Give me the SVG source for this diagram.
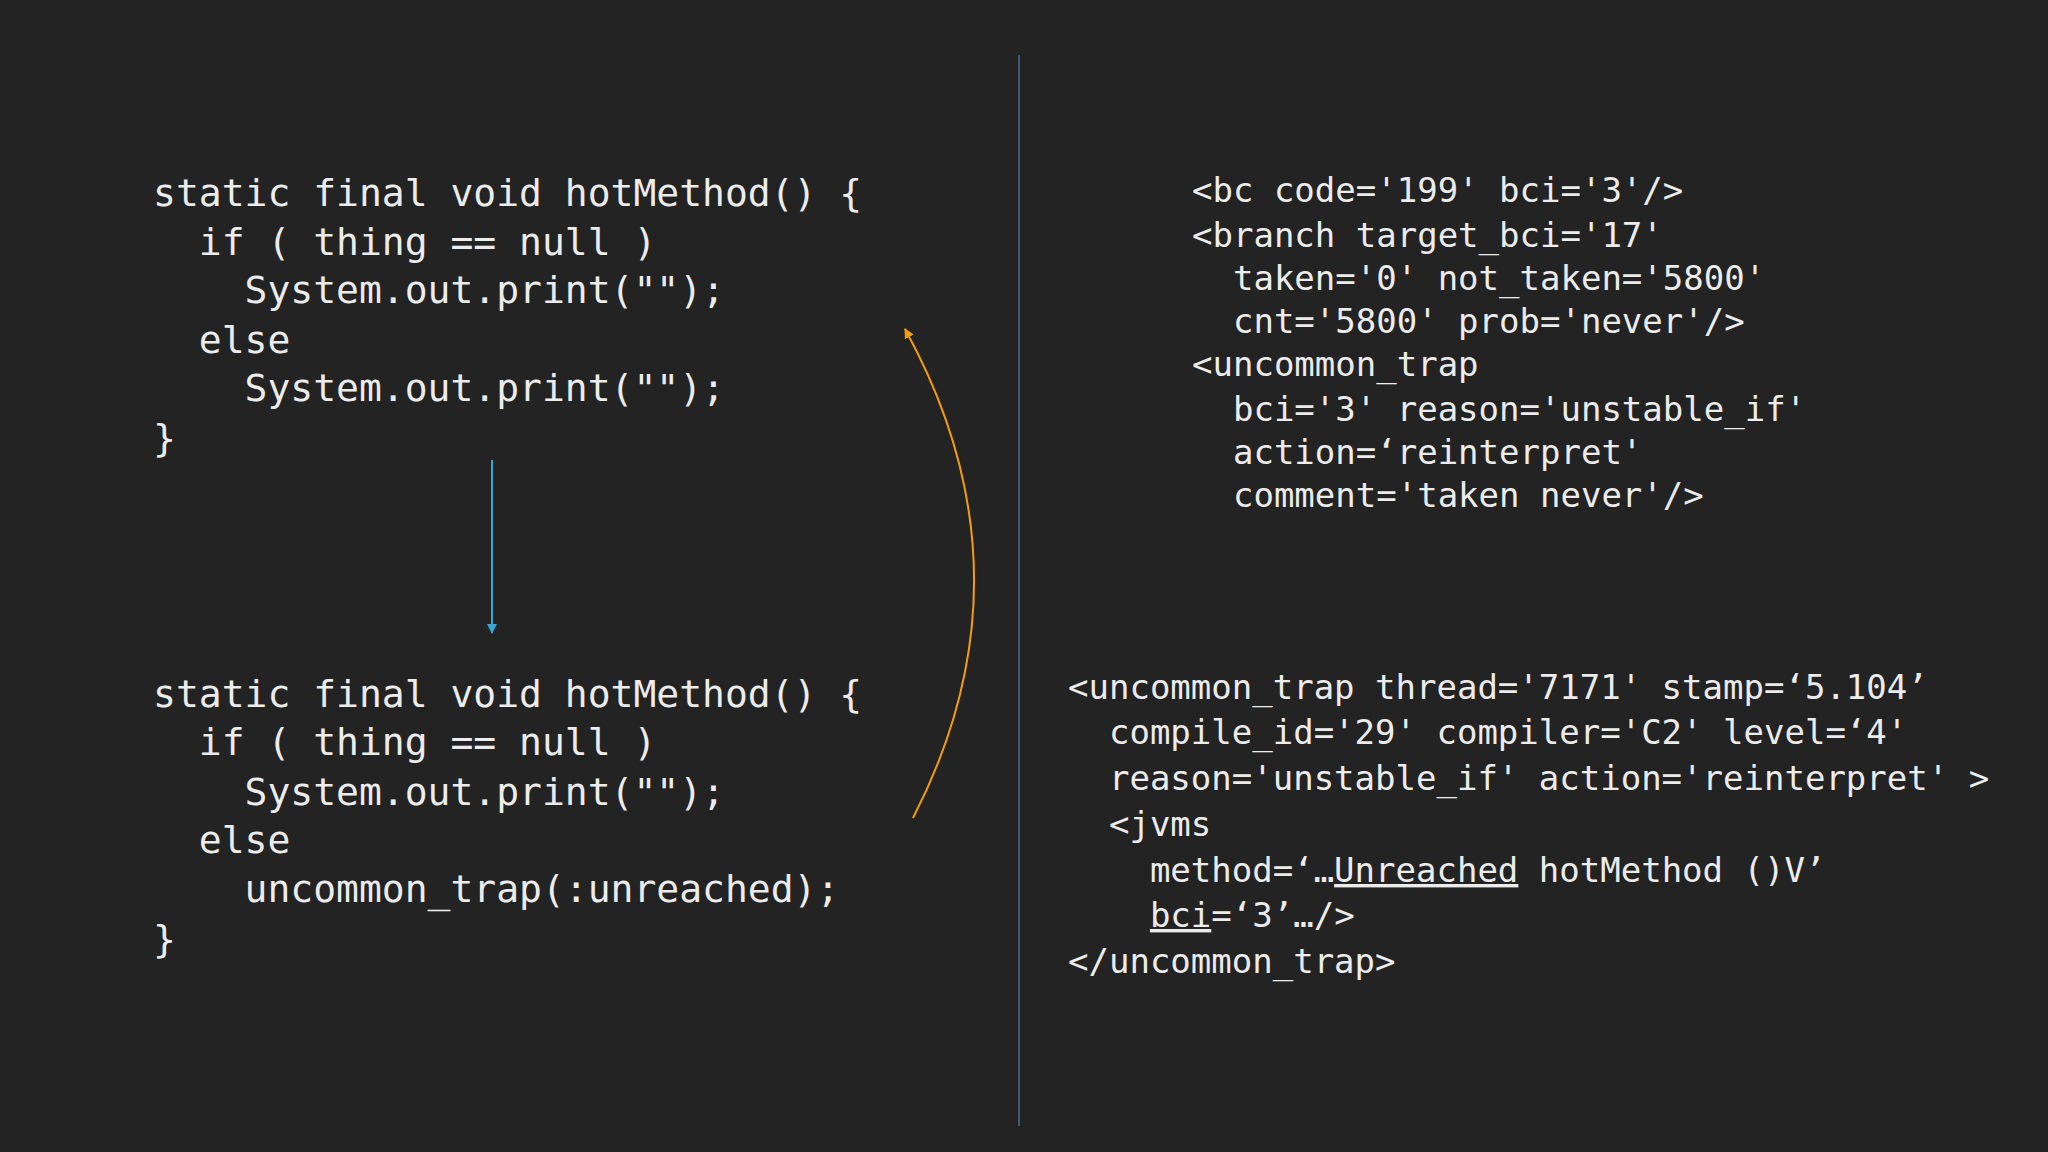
<svg xmlns="http://www.w3.org/2000/svg" width="2048" height="1152" viewBox="0 0 2048 1152">
<defs>
<style>
.code{font-family:"DejaVu Sans Mono","Liberation Mono",monospace;fill:#ececec;white-space:pre}
.l{font-size:38px}
.r{font-size:34px}
</style>
<marker id="ab" viewBox="0 0 10 10" refX="9" refY="5" markerWidth="5" markerHeight="5" orient="auto"><path d="M0,0L10,5L0,10z" fill="#3aa6d8"/></marker>
<marker id="ao" viewBox="0 0 10 10" refX="9" refY="5" markerWidth="5" markerHeight="5" orient="auto"><path d="M0,0L10,5L0,10z" fill="#f39c12"/></marker>
</defs>
<rect width="2048" height="1152" fill="#232323"/>
<line x1="1019" y1="55" x2="1019" y2="1126" stroke="#3d5a78" stroke-width="2"/>
<g id="code-top">
<text class="code l" xml:space="preserve"><tspan x="153" y="206">static final void hotMethod() {</tspan><tspan x="153" y="255">  if ( thing == null )</tspan><tspan x="153" y="303">    System.out.print("");</tspan><tspan x="153" y="353">  else</tspan><tspan x="153" y="401">    System.out.print("");</tspan><tspan x="153" y="451">}</tspan></text>
</g>
<g id="code-bottom">
<text class="code l" xml:space="preserve"><tspan x="153" y="707">static final void hotMethod() {</tspan><tspan x="153" y="755">  if ( thing == null )</tspan><tspan x="153" y="805">    System.out.print("");</tspan><tspan x="153" y="853">  else</tspan><tspan x="153" y="902">    uncommon_trap(:unreached);</tspan><tspan x="153" y="952">}</tspan></text>
</g>
<g id="log-top">
<text class="code r" xml:space="preserve"><tspan x="1192" y="202">&lt;bc code='199' bci='3'/&gt;</tspan><tspan x="1192" y="247">&lt;branch target_bci='17'</tspan><tspan x="1192" y="290">  taken='0' not_taken='5800'</tspan><tspan x="1192" y="333">  cnt='5800' prob='never'/&gt;</tspan><tspan x="1192" y="376">&lt;uncommon_trap</tspan><tspan x="1192" y="421">  bci='3' reason='unstable_if'</tspan><tspan x="1192" y="464">  action=‘reinterpret'</tspan><tspan x="1192" y="507">  comment='taken never'/&gt;</tspan></text>
</g>
<g id="log-bottom">
<text class="code r" xml:space="preserve"><tspan x="1068" y="699">&lt;uncommon_trap thread='7171' stamp=‘5.104’</tspan><tspan x="1068" y="744">  compile_id='29' compiler='C2' level=‘4'</tspan><tspan x="1068" y="790">  reason='unstable_if' action='reinterpret' &gt;</tspan><tspan x="1068" y="836">  &lt;jvms</tspan><tspan x="1068" y="882">    method=‘…<tspan text-decoration="underline">Unreached</tspan> hotMethod ()V’</tspan><tspan x="1068" y="927">    <tspan text-decoration="underline">bci</tspan>=‘3’…/&gt;</tspan><tspan x="1068" y="973">&lt;/uncommon_trap&gt;</tspan></text>
</g>
<g id="connectors" fill="none">
<line x1="492" y1="460" x2="492" y2="633" stroke="#3aa6d8" stroke-width="2" marker-end="url(#ab)"/>
<path d="M913,818 Q1039,573 905,329" stroke="#f39c12" stroke-width="2" marker-end="url(#ao)"/>
</g>
</svg>
